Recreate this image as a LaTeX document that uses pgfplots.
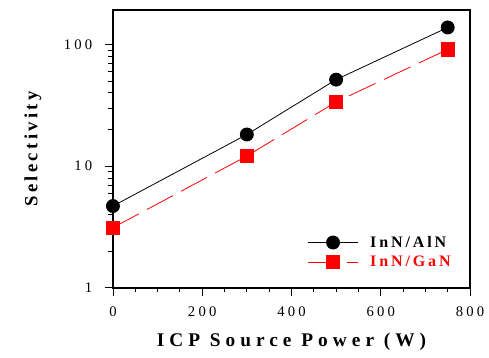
\documentclass[border=0pt]{standalone}
\usepackage{fontspec}
\setmainfont{Liberation Serif}
\newfontfamily\tickfont[LetterSpace=22]{Liberation Serif}
\newfontfamily\labelfont[LetterSpace=18]{Liberation Serif}
\newfontfamily\xlabelfont[LetterSpace=26]{Liberation Serif}
\usepackage{pgfplots}
\pgfplotsset{compat=1.18}
\definecolor{gred}{RGB}{255,0,0}
\begin{document}
\begin{tikzpicture}
\begin{axis}[
  name=main,
  scale only axis,
  width=268pt, height=208.5pt,
  ymode=log,
  log ticks with fixed point,
  xmin=0, xmax=800,
  ymin=1, ymax=192,
  xtick={0,200,400,600,800},
  minor x tick num=3,
  xtick pos=left, ytick pos=left,
  tick align=outside,
  major tick length=6pt,
  minor tick length=3.5pt,
  tick style={semithick, black},
  axis line style={line width=1.5pt},
  /pgf/number format/assume math mode=true,
  tick label style={font=\tickfont\fontsize{11}{13}\selectfont},
  xticklabel style={yshift=-5pt},
  yticklabel style={xshift=-6pt},
  xlabel={\xlabelfont\bfseries\fontsize{14.5}{16}\selectfont ICP Source Power (W)},
  ylabel={\labelfont\bfseries\fontsize{14}{16}\selectfont Selectivity},
  xlabel style={yshift=-5pt},
  ylabel style={yshift=10pt},
  legend style={draw=none, fill=none, at={(0.965,0.05)}, anchor=south east,
    font=\labelfont\bfseries\fontsize{12}{14}\selectfont, row sep=1pt},
  legend cell align=left,
  legend image code/.code={
    \draw[#1] (0cm,0cm) -- (1.3cm,0cm);
    \draw[#1, mark repeat=2, mark phase=2] plot coordinates {(0cm,0cm) (0.65cm,0cm) (1.3cm,0cm)};
    \path (1.55cm,0cm);
  },
]
\addplot[black, line width=0.6pt, mark=*, mark size=4.9pt, mark options={solid}]
  coordinates {(0,4.7) (300,18.2) (500,51.4) (750,138)};
\addlegendentry{InN/AlN}
\addplot[gred, line width=0.6pt, dash pattern=on 22pt off 7pt, mark=square*, mark size=5pt, mark options={solid}]
  coordinates {(0,3.12) (300,12.1) (500,33.7) (750,91)};
\addlegendentry{\textcolor{gred}{InN/GaN}}
\end{axis}
% white margin around the plot
\path (main.south west) ++(-84.75pt,-52.5pt) (main.north east) ++(14.25pt,7.5pt);
\end{tikzpicture}
\end{document}
